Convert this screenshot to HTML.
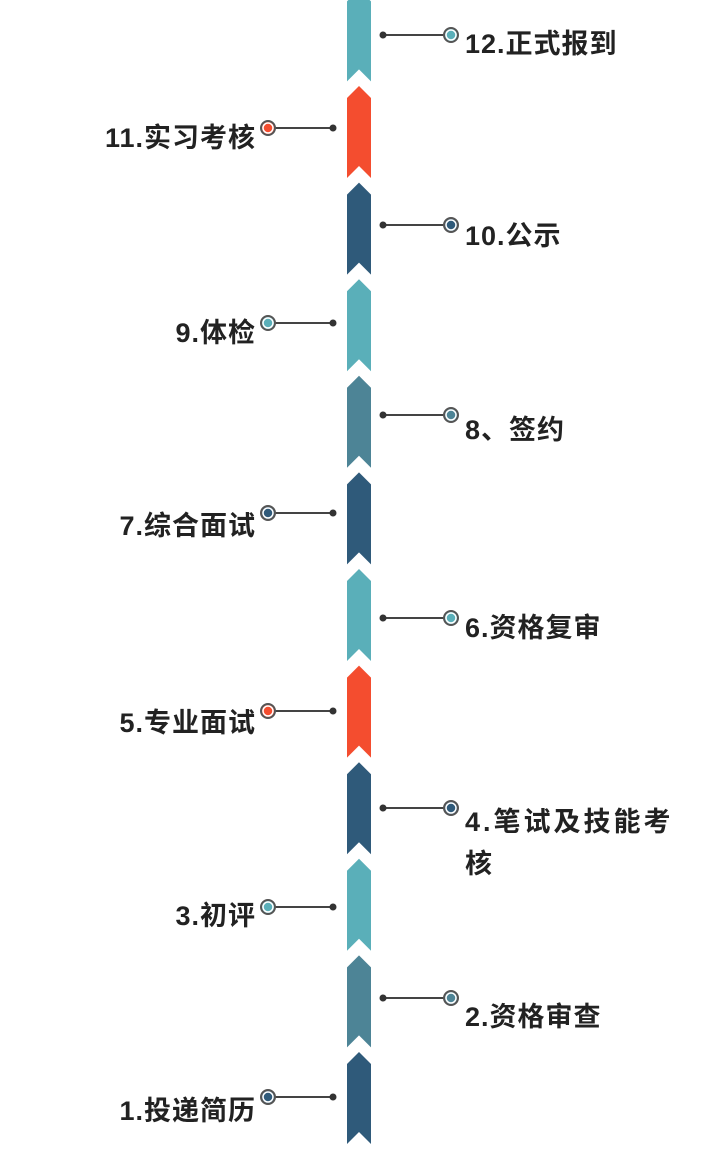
<!DOCTYPE html>
<html><head><meta charset="utf-8"><style>
html,body{margin:0;padding:0;background:#fff;}
svg{display:block}
text{font-family:"Liberation Sans","Noto Sans CJK SC",sans-serif;font-size:27px;fill:#222;font-weight:bold;letter-spacing:1px}
</style></head><body>
<svg width="720" height="1155" viewBox="0 0 720 1155" xmlns="http://www.w3.org/2000/svg">
<g stroke="#444" stroke-width="2">
<line x1="383" y1="35" x2="445" y2="35"/><line x1="383" y1="225" x2="445" y2="225"/>
<line x1="383" y1="415" x2="445" y2="415"/><line x1="383" y1="618" x2="445" y2="618"/>
<line x1="383" y1="808" x2="445" y2="808"/><line x1="383" y1="998" x2="445" y2="998"/>
<line x1="274" y1="128" x2="333" y2="128"/><line x1="274" y1="323" x2="333" y2="323"/>
<line x1="274" y1="513" x2="333" y2="513"/><line x1="274" y1="711" x2="333" y2="711"/>
<line x1="274" y1="907" x2="333" y2="907"/><line x1="274" y1="1097" x2="333" y2="1097"/>
</g>
<g fill="#333">
<circle cx="383" cy="35" r="3.5"/><circle cx="383" cy="225" r="3.5"/><circle cx="383" cy="415" r="3.5"/>
<circle cx="383" cy="618" r="3.5"/><circle cx="383" cy="808" r="3.5"/><circle cx="383" cy="998" r="3.5"/>
<circle cx="333" cy="128" r="3.5"/><circle cx="333" cy="323" r="3.5"/><circle cx="333" cy="513" r="3.5"/>
<circle cx="333" cy="711" r="3.5"/><circle cx="333" cy="907" r="3.5"/><circle cx="333" cy="1097" r="3.5"/>
</g>
<g stroke="#555" stroke-width="2">
<circle cx="451" cy="35" r="7" fill="#5aafb9"/>
<circle cx="451" cy="225" r="7" fill="#2f5a7a"/>
<circle cx="451" cy="415" r="7" fill="#4d8496"/>
<circle cx="451" cy="618" r="7" fill="#5aafb9"/>
<circle cx="451" cy="808" r="7" fill="#2f5a7a"/>
<circle cx="451" cy="998" r="7" fill="#4d8496"/>
<circle cx="268" cy="128" r="7" fill="#f44d2f"/>
<circle cx="268" cy="323" r="7" fill="#5aafb9"/>
<circle cx="268" cy="513" r="7" fill="#2f5a7a"/>
<circle cx="268" cy="711" r="7" fill="#f44d2f"/>
<circle cx="268" cy="907" r="7" fill="#5aafb9"/>
<circle cx="268" cy="1097" r="7" fill="#2f5a7a"/>
</g>
<g fill="none" stroke="#fff" stroke-width="1.5">
<circle cx="451" cy="35" r="5"/><circle cx="451" cy="225" r="5"/><circle cx="451" cy="415" r="5"/>
<circle cx="451" cy="618" r="5"/><circle cx="451" cy="808" r="5"/><circle cx="451" cy="998" r="5"/>
<circle cx="268" cy="128" r="5"/><circle cx="268" cy="323" r="5"/><circle cx="268" cy="513" r="5"/>
<circle cx="268" cy="711" r="5"/><circle cx="268" cy="907" r="5"/><circle cx="268" cy="1097" r="5"/>
</g>
<g>
<text x="465" y="53">12.正式报到</text>
<text x="465" y="245">10.公示</text>
<text x="465" y="439">8、签约</text>
<text x="465" y="637">6.资格复审</text>
<text x="465" y="831" style="letter-spacing:3px">4.笔试及技能考</text>
<text x="465" y="873">核</text>
<text x="465" y="1026">2.资格审查</text>
</g>
<g text-anchor="end">
<text x="256" y="147">11.实习考核</text>
<text x="256" y="342">9.体检</text>
<text x="256" y="535">7.综合面试</text>
<text x="256" y="732">5.专业面试</text>
<text x="256" y="925">3.初评</text>
<text x="256" y="1120">1.投递简历</text>
</g>
<g>
<polygon points="347,1.4 359,-10.6 371,1.4 371,81.4 359,69.4 347,81.4" fill="#5aafb9"/>
<polygon points="347,98 359,86 371,98 371,178 359,166 347,178" fill="#f44d2f"/>
<polygon points="347,194.6 359,182.6 371,194.6 371,274.6 359,262.6 347,274.6" fill="#2f5a7a"/>
<polygon points="347,291.2 359,279.2 371,291.2 371,371.2 359,359.2 347,371.2" fill="#5aafb9"/>
<polygon points="347,387.8 359,375.8 371,387.8 371,467.8 359,455.8 347,467.8" fill="#4d8496"/>
<polygon points="347,484.4 359,472.4 371,484.4 371,564.4 359,552.4 347,564.4" fill="#2f5a7a"/>
<polygon points="347,581 359,569 371,581 371,661 359,649 347,661" fill="#5aafb9"/>
<polygon points="347,677.6 359,665.6 371,677.6 371,757.6 359,745.6 347,757.6" fill="#f44d2f"/>
<polygon points="347,774.2 359,762.2 371,774.2 371,854.2 359,842.2 347,854.2" fill="#2f5a7a"/>
<polygon points="347,870.8 359,858.8 371,870.8 371,950.8 359,938.8 347,950.8" fill="#5aafb9"/>
<polygon points="347,967.4 359,955.4 371,967.4 371,1047.4 359,1035.4 347,1047.4" fill="#4d8496"/>
<polygon points="347,1064 359,1052 371,1064 371,1144 359,1132 347,1144" fill="#2f5a7a"/>
</g>
</svg>
</body></html>
